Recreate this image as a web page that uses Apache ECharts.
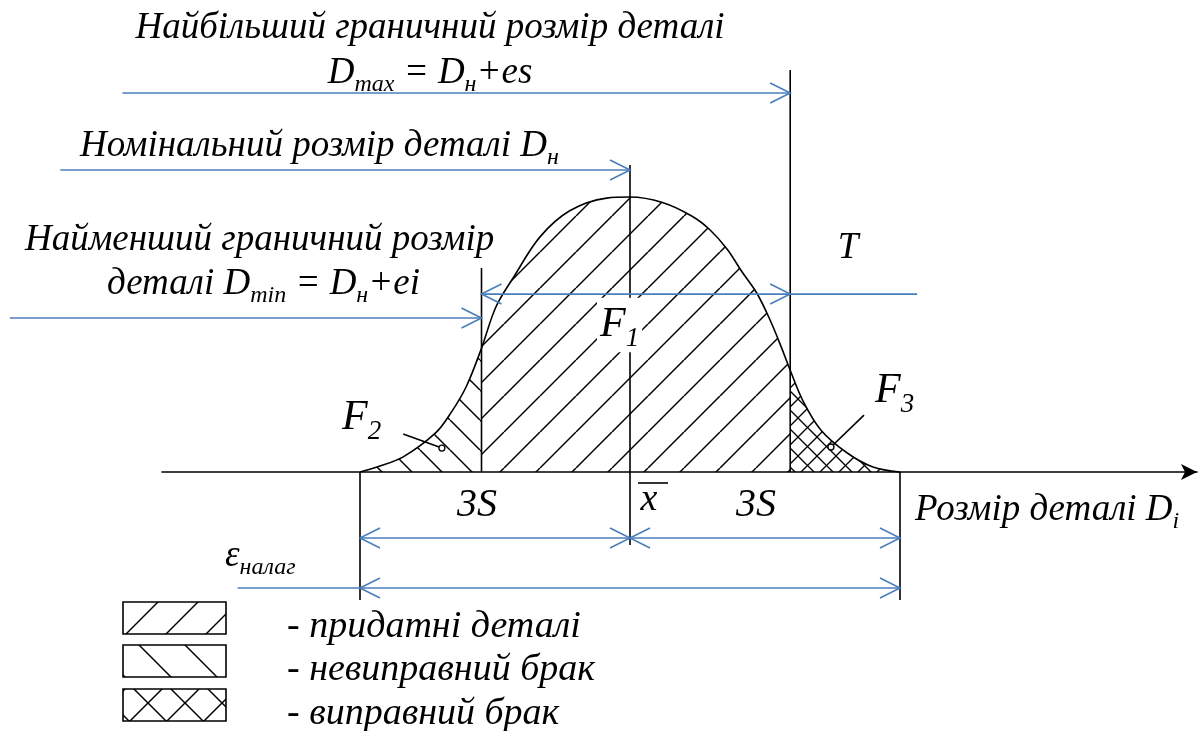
<!DOCTYPE html>
<html style="height: 100%">
<head>
    <meta charset="utf-8">
</head>
<body style="height: 100%; margin: 0; background: #fff">
    <div id="container" style="width: 1200px; height: 731px"></div>
    <script type="text/javascript" src="https://cdn.jsdelivr.net/npm/echarts/dist/echarts.min.js"></script>
    <script type="text/javascript">
        // curve of sizes, x in units of S (mean = 0), y relative to the peak
        var curveX = [-3, -2.81, -2.52, -2.16, -1.99, -1.82, -1.65, -1.49, -1.29, -1.0, -0.67, -0.26, 0, 0.36, 0.69, 0.89, 1.08, 1.24, 1.41, 1.56, 1.68, 1.78, 1.92, 2.12, 2.41, 2.70, 3];
        var curveY = [0, 0.018, 0.055, 0.142, 0.215, 0.31, 0.45, 0.60, 0.71, 0.855, 0.95, 0.996, 1.0, 0.98, 0.93, 0.88, 0.81, 0.73, 0.65, 0.55, 0.455, 0.37, 0.26, 0.153, 0.07, 0.018, 0];
        var dMin = -1.65, mean = 0, dMax = 1.78, lowEnd = -3, highEnd = 3;

        // blue dimension arrows: x1, y1, x2, y2, head at start, head at end
        var arrows = [
            [-5.64, 1.378, dMax, 1.378, 0, 1],
            [-6.33, 1.098, mean, 1.098, 0, 1],
            [-6.89, 0.560, dMin, 0.560, 0, 1],
            [dMin, 0.647, dMax, 0.647, 1, 1],
            [dMax, 0.647, 3.19, 0.647, 0, 0],
            [lowEnd, -0.240, mean, -0.240, 1, 1],
            [mean, -0.240, highEnd, -0.240, 1, 1],
            [-4.36, -0.422, lowEnd, -0.422, 0, 0],
            [lowEnd, -0.422, highEnd, -0.422, 1, 1]
        ];
        // black lines: x1, y1, x2, y2, dot at end
        var segments = [
            [lowEnd, 0, lowEnd, -0.465, 0],
            [highEnd, 0, highEnd, -0.465, 0],
            [mean, 1.116, mean, -0.265, 0],
            [dMin, 0.742, dMin, 0, 0],
            [dMax, 1.462, dMax, 0, 0],
            [-2.52, 0.138, -2.09, 0.087, 1],
            [2.60, 0.207, 2.233, 0.091, 1]
        ];
        var legendLabels = ['- придатні деталі', '- невиправний брак', '- виправний брак'];

        var FONT = '"Liberation Serif", "Times New Roman", serif';
        var BLUE = '#4a7ebb';

        function hatch(step, dirs, lw) {
            var c = document.createElement('canvas');
            c.width = step; c.height = step;
            var g = c.getContext('2d');
            g.strokeStyle = '#000';
            g.lineWidth = lw;
            dirs.forEach(function (d) {
                for (var k = -step; k <= step; k += step) {
                    g.beginPath();
                    if (d === '/') { g.moveTo(k, step); g.lineTo(k + step, 0); }
                    else { g.moveTo(k, 0); g.lineTo(k + step, step); }
                    g.stroke();
                }
            });
            return c;
        }
        var patGood = hatch(36, ['/'], 1.5);
        var patBad = hatch(30, ['\\'], 1.5);
        var patFix = hatch(19, ['/', '\\'], 1.3);
        var patGoodL = hatch(40, ['/'], 1.5);
        var patBadL = hatch(46, ['\\'], 1.5);
        var patFixL = hatch(37, ['/', '\\'], 1.5);

        function pts(from, to) {
            var out = [];
            for (var i = 0; i < curveX.length; i++) {
                if (curveX[i] >= from && curveX[i] <= to) out.push([curveX[i], curveY[i]]);
            }
            return out;
        }

        function areaSeries(data, pattern) {
            return {
                type: 'line', data: data, smooth: 0.35, showSymbol: false, silent: true, z: 1,
                lineStyle: { width: 0 },
                areaStyle: { color: { image: pattern, repeat: 'repeat' }, opacity: 1 }
            };
        }

        function renderArrow(params, api) {
            var p1 = api.coord([api.value(0), api.value(1)]);
            var p2 = api.coord([api.value(2), api.value(3)]);
            var dx = p2[0] - p1[0], dy = p2[1] - p1[1];
            var len = Math.sqrt(dx * dx + dy * dy);
            var ux = dx / len, uy = dy / len;
            var L = 20, W = 10;
            var style = { stroke: BLUE, lineWidth: 1.6, fill: null };
            var kids = [{ type: 'line', shape: { x1: p1[0], y1: p1[1], x2: p2[0], y2: p2[1] }, style: style }];
            function head(p, sx, sy) {
                return {
                    type: 'polyline', style: style,
                    shape: { points: [[p[0] - sx * L - sy * W, p[1] - sy * L + sx * W], [p[0], p[1]], [p[0] - sx * L + sy * W, p[1] - sy * L - sx * W]] }
                };
            }
            if (api.value(4)) kids.push(head(p1, -ux, -uy));
            if (api.value(5)) kids.push(head(p2, ux, uy));
            return { type: 'group', children: kids };
        }

        function renderSegment(params, api) {
            var p1 = api.coord([api.value(0), api.value(1)]);
            var p2 = api.coord([api.value(2), api.value(3)]);
            var kids = [{ type: 'line', shape: { x1: p1[0], y1: p1[1], x2: p2[0], y2: p2[1] }, style: { stroke: '#000', lineWidth: 1.6 } }];
            if (api.value(4)) {
                kids.push({ type: 'circle', shape: { cx: p2[0], cy: p2[1], r: 3 }, style: { stroke: '#000', fill: '#fff', lineWidth: 1.3 } });
            }
            return { type: 'group', children: kids };
        }

        function label(text, x, y, size, align, extra) {
            var st = {
                text: text, x: x, y: y, fill: '#000',
                fontFamily: FONT, fontStyle: 'italic', fontSize: size,
                align: align || 'left', verticalAlign: 'middle',
                lineHeight: size * 1.3,
                rich: {
                    s: {
                        fontFamily: FONT, fontStyle: 'italic', fontSize: Math.round(size * 0.65),
                        lineHeight: Math.round(size * 0.8), verticalAlign: 'bottom'
                    }
                }
            };
            for (var k in extra) st[k] = extra[k];
            return { type: 'text', z: 100, style: st };
        }

        var graphics = [
            label('Найбільший граничний розмір деталі', 430, 28, 37, 'center'),
            label('D{s|max} = D{s|н}+es', 430, 73, 37, 'center'),
            label('Номінальний розмір деталі D{s|н}', 80, 146, 37, 'left'),
            label('Найменший граничний розмір', 25, 240, 37, 'left'),
            label('деталі D{s|min} = D{s|н}+ei', 107, 284, 37, 'left'),
            label('T', 848, 248, 37, 'center'),
            label('F{s|1}', 597, 325, 42, 'left', { backgroundColor: '#fff', padding: [0, 3, 0, 3] }),
            label('F{s|2}', 342, 418, 42, 'left'),
            label('F{s|3}', 875, 391, 42, 'left'),
            label('3S', 477, 505, 40, 'center'),
            label('x', 649, 500, 38, 'center'),
            label('3S', 756, 505, 40, 'center'),
            label('Розмір деталі D{s|i}', 915, 510, 37, 'left'),
            label('ε{s|налаг}', 225, 556, 37, 'left'),
            { type: 'line', z: 100, shape: { x1: 638, y1: 483, x2: 668, y2: 483 }, style: { stroke: '#000', lineWidth: 1.6 } }
        ];
        var legendPats = [patGoodL, patBadL, patFixL];
        var legendTop = [602, 645, 689];
        legendLabels.forEach(function (t, i) {
            graphics.push({
                type: 'rect', z: 100, shape: { x: 123, y: legendTop[i], width: 103, height: 32 },
                style: { fill: { image: legendPats[i], repeat: 'repeat' }, stroke: '#000', lineWidth: 1.6 }
            });
            graphics.push(label(t, 287, legendTop[i] + 25, 38, 'left'));
        });

        var dom = document.getElementById('container');
        var myChart = echarts.init(dom);
        var option = {
            backgroundColor: '#fff',
            animation: false,
            grid: { left: 162, right: 3, top: 4.5, bottom: 11.5 },
            xAxis: {
                type: 'value', min: -5.2, max: 6.3,
                axisLine: {
                    show: true, onZero: true, symbol: ['none', 'arrow'], symbolSize: [12, 16],
                    lineStyle: { color: '#000', width: 1.6 }
                },
                axisTick: { show: false }, axisLabel: { show: false }, splitLine: { show: false }
            },
            yAxis: { type: 'value', min: -0.9, max: 1.7, show: false },
            series: [
                areaSeries(pts(lowEnd, dMin), patBad),
                areaSeries(pts(dMin, dMax), patGood),
                areaSeries(pts(dMax, highEnd), patFix),
                {
                    type: 'line', data: pts(lowEnd, highEnd), smooth: 0.35, showSymbol: false, z: 3,
                    lineStyle: { color: '#000', width: 1.6 }
                },
                {
                    type: 'custom', renderItem: renderSegment, data: segments, z: 4, clip: false,
                    encode: { x: [0, 2], y: [1, 3] }
                },
                {
                    type: 'custom', renderItem: renderArrow, data: arrows, z: 5, clip: false,
                    encode: { x: [0, 2], y: [1, 3] }
                }
            ],
            graphic: graphics
        };
        myChart.setOption(option);
    </script>
</body>
</html>
